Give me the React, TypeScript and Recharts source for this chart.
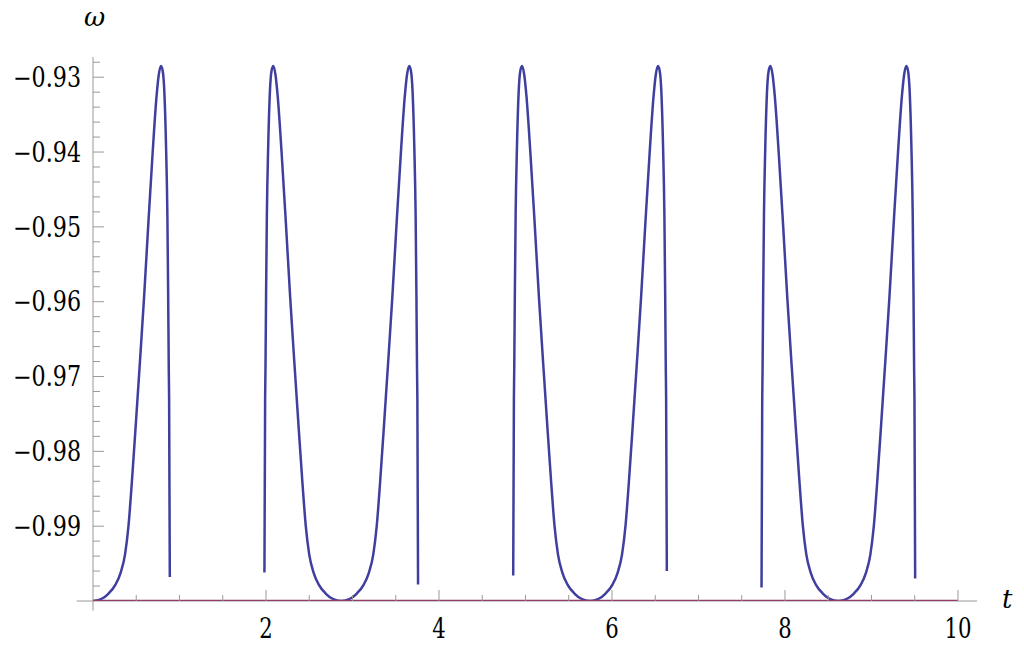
import { LineChart, Line, XAxis, YAxis, ReferenceLine } from "recharts";

// omega(t), one array pair per connected piece of the curve
const tSegA = [0, 0.1, 0.18, 0.26, 0.32, 0.37, 0.41, 0.45, 0.5, 0.54, 0.59, 0.64, 0.69, 0.735, 0.76, 0.785, 0.805, 0.825, 0.845, 0.86, 0.869, 0.876, 0.88, 0.888];
const wSegA = [-1.0, -0.9997, -0.999, -0.9978, -0.9962, -0.9938, -0.99, -0.984, -0.9755, -0.9685, -0.9595, -0.9495, -0.94, -0.9325, -0.9297, -0.9285, -0.9291, -0.932, -0.9395, -0.9485, -0.959, -0.969, -0.973, -0.9968];

const tSegB = [1.982, 1.99, 1.994, 2.001, 2.01, 2.025, 2.045, 2.065, 2.085, 2.11, 2.135, 2.18, 2.23, 2.28, 2.33, 2.37, 2.42, 2.46, 2.5, 2.55, 2.61, 2.69, 2.77, 2.87,
    2.97, 3.05, 3.13, 3.19, 3.24, 3.28, 3.32, 3.37, 3.41, 3.46, 3.51, 3.56, 3.605, 3.63, 3.655, 3.675, 3.695, 3.715, 3.73, 3.739, 3.746, 3.75, 3.758];
const wSegB = [-0.9962, -0.973, -0.969, -0.959, -0.9485, -0.9395, -0.932, -0.9291, -0.9285, -0.9297, -0.9325, -0.94, -0.9495, -0.9595, -0.9685, -0.9755, -0.984, -0.99, -0.9938, -0.9962, -0.9978, -0.999, -0.9997, -1.0,
    -0.9997, -0.999, -0.9978, -0.9962, -0.9938, -0.99, -0.984, -0.9755, -0.9685, -0.9595, -0.9495, -0.94, -0.9325, -0.9297, -0.9285, -0.9291, -0.932, -0.9395, -0.9485, -0.959, -0.969, -0.973, -0.9978];

const tSegC = [4.858, 4.866, 4.87, 4.877, 4.886, 4.901, 4.921, 4.941, 4.961, 4.986, 5.011, 5.056, 5.106, 5.156, 5.206, 5.246, 5.296, 5.336, 5.376, 5.426, 5.486, 5.566, 5.646, 5.746,
    5.846, 5.926, 6.006, 6.066, 6.116, 6.156, 6.196, 6.246, 6.286, 6.336, 6.386, 6.436, 6.481, 6.506, 6.531, 6.551, 6.571, 6.591, 6.606, 6.615, 6.622, 6.626, 6.634];
const wSegC = [-0.9966, -0.973, -0.969, -0.959, -0.9485, -0.9395, -0.932, -0.9291, -0.9285, -0.9297, -0.9325, -0.94, -0.9495, -0.9595, -0.9685, -0.9755, -0.984, -0.99, -0.9938, -0.9962, -0.9978, -0.999, -0.9997, -1.0,
    -0.9997, -0.999, -0.9978, -0.9962, -0.9938, -0.99, -0.984, -0.9755, -0.9685, -0.9595, -0.9495, -0.94, -0.9325, -0.9297, -0.9285, -0.9291, -0.932, -0.9395, -0.9485, -0.959, -0.969, -0.973, -0.996];

const tSegD = [7.729, 7.737, 7.741, 7.748, 7.757, 7.772, 7.792, 7.812, 7.832, 7.857, 7.882, 7.927, 7.977, 8.027, 8.077, 8.117, 8.167, 8.207, 8.247, 8.297, 8.357, 8.437, 8.517, 8.617,
    8.717, 8.797, 8.877, 8.937, 8.987, 9.027, 9.067, 9.117, 9.157, 9.207, 9.257, 9.307, 9.352, 9.377, 9.402, 9.422, 9.442, 9.462, 9.477, 9.486, 9.493, 9.497, 9.505];
const wSegD = [-0.9982, -0.973, -0.969, -0.959, -0.9485, -0.9395, -0.932, -0.9291, -0.9285, -0.9297, -0.9325, -0.94, -0.9495, -0.9595, -0.9685, -0.9755, -0.984, -0.99, -0.9938, -0.9962, -0.9978, -0.999, -0.9997, -1.0,
    -0.9997, -0.999, -0.9978, -0.9962, -0.9938, -0.99, -0.984, -0.9755, -0.9685, -0.9595, -0.9495, -0.94, -0.9325, -0.9297, -0.9285, -0.9291, -0.932, -0.9395, -0.9485, -0.959, -0.969, -0.973, -0.997];

// gaps where the curve is not drawn
const gapT = [1.4, 4.3, 7.2];

// second curve: flat at omega = -1
const baseT = [0, 10];
const baseW = [-1, -1];

const xTicks = [0.5, 1, 1.5, 2, 2.5, 3, 3.5, 4, 4.5, 5, 5.5, 6, 6.5, 7, 7.5, 8, 8.5, 9, 9.5, 10];
const yTicks = [-0.998, -0.996, -0.994, -0.992, -0.99, -0.988, -0.986, -0.984, -0.982, -0.98, -0.978, -0.976, -0.974, -0.972, -0.97,
    -0.968, -0.966, -0.964, -0.962, -0.96, -0.958, -0.956, -0.954, -0.952, -0.95, -0.948, -0.946, -0.944, -0.942, -0.94,
    -0.938, -0.936, -0.934, -0.932, -0.93, -0.928];

const pts = (ts: number[], ws: number[]) => ts.map((t, i) => ({ t, w: ws[i] }));

const data = [
    ...pts(tSegA, wSegA),
    { t: gapT[0], w: null },
    ...pts(tSegB, wSegB),
    { t: gapT[1], w: null },
    ...pts(tSegC, wSegC),
    { t: gapT[2], w: null },
    ...pts(tSegD, wSegD),
];
const baseData = pts(baseT, baseW);

const W = 1024;
const H = 652;
const LEFT = 93;
const BOTTOM = 601;
const AXIS = "#999";
// DejaVu Serif is the serif face that resolves here; squeezed a bit to look Times-like
const FONT = "'DejaVu Serif', serif";
const FS = 27;

const isMajorY = (v: number) => Math.abs(v * 100 - Math.round(v * 100)) < 1e-6;

const YTick = (props: any) => {
    const { y, payload } = props;
    const v = payload.value as number;
    const major = isMajorY(v);
    return (
        <g>
            <line x1={LEFT} x2={LEFT + (major ? 11 : 7)} y1={y} y2={y} stroke={AXIS} strokeWidth={1} />
            {major && (
                <text
                    x={81}
                    y={y}
                    dy="0.36em"
                    textAnchor="end"
                    textLength={68}
                    lengthAdjust="spacingAndGlyphs"
                    style={{ fontFamily: FONT, fontSize: FS }}
                    fill="#000"
                >
                    {"\u2212" + Math.abs(v).toFixed(2)}
                </text>
            )}
        </g>
    );
};

const XTick = (props: any) => {
    const { x, payload } = props;
    const v = payload.value as number;
    const major = v % 2 === 0;
    const label = String(v);
    return (
        <g>
            <line x1={x} x2={x} y1={BOTTOM} y2={BOTTOM - (major ? 11 : 6)} stroke={AXIS} strokeWidth={1} />
            {major && (
                <text
                    x={x}
                    y={638}
                    textAnchor="middle"
                    textLength={label.length * 13.5}
                    lengthAdjust="spacingAndGlyphs"
                    style={{ fontFamily: FONT, fontSize: FS }}
                    fill="#000"
                >
                    {label}
                </text>
            )}
        </g>
    );
};

export default function App() {
    return (
        <div style={{ position: "absolute", left: 0, top: 0, width: W, height: H, background: "#fff" }}>
            <LineChart width={W} height={H} data={data} margin={{ top: 57, right: 47, bottom: 0, left: 0 }}>
                <XAxis
                    dataKey="t"
                    type="number"
                    domain={[0, 10.22]}
                    ticks={xTicks}
                    interval={0}
                    allowDataOverflow
                    height={51}
                    axisLine={false}
                    tickLine={false}
                    tick={(p: any) => <XTick {...p} />}
                />
                <YAxis
                    type="number"
                    domain={[-1.0, -0.9273]}
                    ticks={yTicks}
                    interval={0}
                    allowDataOverflow
                    width={93}
                    axisLine={false}
                    tickLine={false}
                    tick={(p: any) => <YTick {...p} />}
                />
                <ReferenceLine
                    segment={[{ x: -0.19, y: -1.0 }, { x: 10.22, y: -1.0 }]}
                    stroke={AXIS}
                    strokeWidth={1}
                    ifOverflow="visible"
                />
                <ReferenceLine
                    segment={[{ x: 0, y: -1.0013 }, { x: 0, y: -0.9273 }]}
                    stroke={AXIS}
                    strokeWidth={1}
                    ifOverflow="visible"
                />
                <Line
                    dataKey="w"
                    type="monotone"
                    stroke="#3f3fa0"
                    strokeWidth={2.5}
                    dot={false}
                    activeDot={false}
                    isAnimationActive={false}
                />
                <Line
                    data={baseData}
                    dataKey="w"
                    type="linear"
                    stroke="#953c6c"
                    strokeWidth={2.5}
                    dot={false}
                    activeDot={false}
                    isAnimationActive={false}
                />
            </LineChart>
            <span style={{ position: "absolute", left: 84, top: 3, fontFamily: FONT, fontStyle: "italic", fontSize: 26, lineHeight: "28px" }}>
                ω
            </span>
            <span style={{ position: "absolute", left: 1002, top: 585, fontFamily: FONT, fontStyle: "italic", fontSize: 26, lineHeight: "28px" }}>
                t
            </span>
        </div>
    );
}
